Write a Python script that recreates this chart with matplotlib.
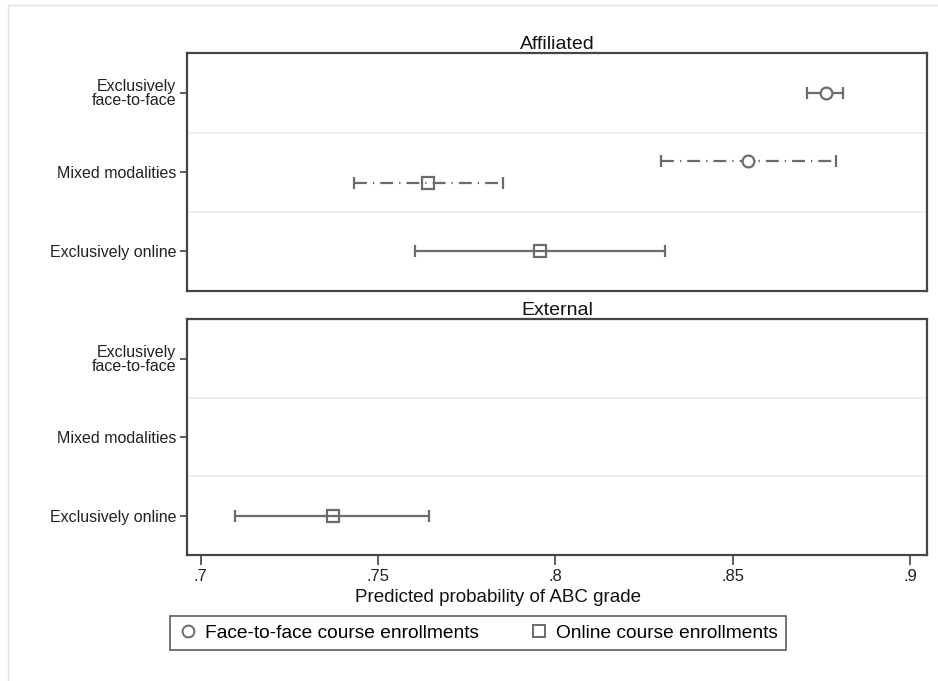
import numpy as np
import matplotlib.pyplot as plt
from matplotlib.lines import Line2D
from matplotlib.patches import Rectangle

plt.rcParams['font.family'] = ['Liberation Sans', 'DejaVu Sans']

categories = ["Exclusively\nface-to-face", "Mixed modalities", "Exclusively online"]
panels = ["Affiliated", "External"]
xticks = [0.7, 0.75, 0.8, 0.85, 0.9]
xticklabels = [".7", ".75", ".8", ".85", ".9"]

# predicted probability and 95% CI, per panel, per category (nan = not present)
f2f_est = {"Affiliated": [0.8762, 0.8544, np.nan], "External": [np.nan, np.nan, np.nan]}
f2f_lo = {"Affiliated": [0.8710, 0.8298, np.nan], "External": [np.nan, np.nan, np.nan]}
f2f_hi = {"Affiliated": [0.8812, 0.8791, np.nan], "External": [np.nan, np.nan, np.nan]}
onl_est = {"Affiliated": [np.nan, 0.7642, 0.7957], "External": [np.nan, np.nan, 0.7372]}
onl_lo = {"Affiliated": [np.nan, 0.7432, 0.7604], "External": [np.nan, np.nan, 0.7097]}
onl_hi = {"Affiliated": [np.nan, 0.7853, 0.8309], "External": [np.nan, np.nan, 0.7644]}

col = '#6b6b6b'
dashdot = (0, (5.8, 2.7, 0.6, 2.7))

fig = plt.figure(figsize=(9.38, 6.81), dpi=100)
fig.patches.append(Rectangle((8 / 938, -0.01), 1.0, 1 - 5 / 681 + 0.01,
                             transform=fig.transFigure, fill=False,
                             edgecolor='#e2e2e2', lw=1))

axes = [fig.add_axes([0.1997, 0.5727, 0.7883, 0.349]),
        fig.add_axes([0.1997, 0.185, 0.7883, 0.3461])]

ypos = np.arange(1, 4)
for ax, p in zip(axes, panels):
    for i, y in enumerate(ypos):
        style = dashdot if i == 1 else '-'
        off = 0.14 if i == 1 else 0.0
        # face-to-face
        if not np.isnan(f2f_est[p][i]):
            yy = y - off
            ax.plot([f2f_lo[p][i], f2f_hi[p][i]], [yy, yy], color=col, lw=1.6,
                    linestyle=style, zorder=2)
            ax.plot([f2f_lo[p][i], f2f_hi[p][i]], [yy, yy], color=col, lw=0,
                    marker='|', markersize=9, markeredgewidth=1.6, zorder=2)
            ax.plot(f2f_est[p][i], yy, marker='o', markersize=8.5, mfc='white',
                    mec=col, mew=1.6, linestyle='none', zorder=3)
        # online
        if not np.isnan(onl_est[p][i]):
            yy = y + off
            ax.plot([onl_lo[p][i], onl_hi[p][i]], [yy, yy], color=col, lw=1.6,
                    linestyle=style, zorder=2)
            ax.plot([onl_lo[p][i], onl_hi[p][i]], [yy, yy], color=col, lw=0,
                    marker='|', markersize=9, markeredgewidth=1.6, zorder=2)
            ax.plot(onl_est[p][i], yy, marker='s', markersize=8.5, mfc='none',
                    mec=col, mew=1.6, linestyle='none', zorder=3)

    for g in [1.5, 2.5]:
        ax.axhline(g, color='#ececec', lw=1.2, zorder=1)
    ax.set_xlim(0.6962, 0.9047)
    ax.set_ylim(3.5, 0.5)
    ax.set_yticks(ypos)
    ax.set_yticklabels(categories, fontsize=11.5, color='#222222', linespacing=0.92)
    ax.tick_params(axis='y', length=5, width=1.2, color='#444444', pad=3)
    for s in ax.spines.values():
        s.set_color('#454545')
        s.set_linewidth(1.6)
    ax.set_title(p, fontsize=14, pad=3, color='#111111')

axes[0].set_xticks([])
axes[1].set_xticks(xticks)
axes[1].set_xticklabels(xticklabels, fontsize=12, color='#222222')
axes[1].tick_params(axis='x', length=7, width=1.2, color='#444444', pad=3)
fig.text(498 / 938, 1 - 598 / 681, "Predicted probability of ABC grade", fontsize=13.5,
         color='#111111', ha='center', va='center')

handles = [Line2D([], [], marker='o', markersize=8.5, mfc='white', mec=col, mew=1.4,
                  linestyle='none'),
           Line2D([], [], marker='s', markersize=8.5, mfc='none', mec=col, mew=1.4,
                  linestyle='none')]
leg = fig.legend(handles, ["Face-to-face course enrollments", "Online course enrollments"],
                 loc='center', bbox_to_anchor=(478 / 938, 1 - 633 / 681), ncol=2,
                 fontsize=13.8, frameon=True, fancybox=False, edgecolor='#333333',
                 handletextpad=0.4, columnspacing=2.6, borderpad=0.45,
                 handlelength=1.0)
leg.get_frame().set_linewidth(1.2)

fig.savefig('out.png', dpi=100, facecolor='white')
